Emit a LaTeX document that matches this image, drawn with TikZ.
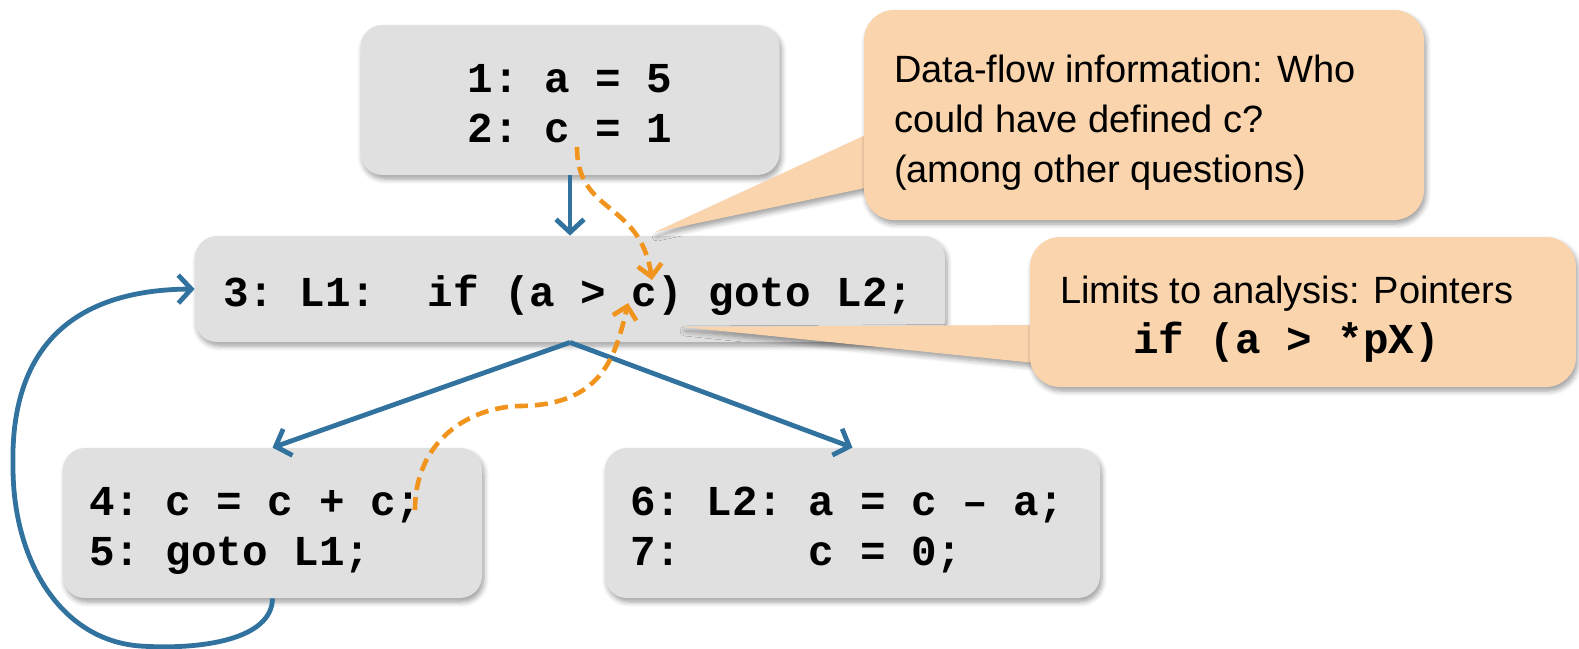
\documentclass[tikz,border=0pt]{standalone}
\usepackage{fontspec}
\setmonofont{Liberation Mono}
\newfontfamily\notefamily{Liberation Sans}
\usetikzlibrary{arrows.meta,shadows.blur}

\definecolor{boxgray}{RGB}{224,224,224}
\definecolor{notepeach}{RGB}{249,212,173}
\definecolor{flowblue}{RGB}{49,115,158}
\definecolor{dataorange}{RGB}{240,148,30}

\newcommand\codetype{\ttfamily\bfseries\fontsize{21.3}{25}\selectfont}
\newcommand\notetype{\notefamily\fontsize{19}{25}\selectfont}
\newsavebox\limitsline

\tikzset{
  softshadow/.style={blur shadow={shadow xshift=1pt, shadow yshift=-2pt,
      shadow blur radius=2.5pt, shadow blur steps=6, shadow opacity=38}},
  % keep the font's own word space (fixed-pitch code needs full-width blanks)
  fontspaces/.style={execute at begin node={\spaceskip=0pt\xspaceskip=0pt\relax}},
  codebox/.style={rounded corners=11pt, fill=boxgray, softshadow,
      inner ysep=0pt, font=\codetype, align=left, fontspaces},
  notebox/.style={rounded corners=15pt, fill=notepeach, softshadow,
      inner ysep=0pt, font=\notetype, align=left, fontspaces},
  wedge/.style={fill=notepeach, softshadow},
  flow/.style={draw=flowblue, line width=2.4pt,
      -{Straight Barb[length=6.5pt, width=14pt, line width=2.4pt]}},
  dataflow/.style={draw=dataorange, line width=2.3pt, dash pattern=on 6.5pt off 3.5pt,
      -{Straight Barb[length=6pt, width=12pt, line width=2.3pt]}},
}

\begin{document}
\begin{tikzpicture}[x=0.5pt, y=-0.5pt]
  \useasboundingbox (0,0) rectangle (1579,648);

  % basic blocks of the control-flow graph
  \node[codebox, align=center, minimum width=209.5pt, minimum height=75pt,
        inner xsep=10pt, text width=189.5pt, text height=0pt, text depth=8pt]
        (b1) at (570,100) {1: a = 5\\2: c = 1};
  \node[codebox, minimum width=375pt, minimum height=53pt,
        inner xsep=14pt, text width=347pt, text height=17pt, text depth=0pt]
        (b3) at (570,289) {3: L1:~~if (a > c) goto L2;};
  \node[codebox, minimum width=209.5pt, minimum height=75pt,
        inner xsep=13pt, text width=183.5pt, text height=0pt, text depth=8pt]
        (b4) at (272.5,523) {4: c = c + c;\\5: goto L1;};
  \node[codebox, minimum width=247.5pt, minimum height=75pt,
        inner xsep=12.5pt, text width=222.5pt, text height=0pt, text depth=8pt]
        (b6) at (852.5,523) {6: L2: a = c – a;\\7:~~~~~c = 0;};

  % speech-bubble pointers
  \coordinate (t1) at (655,232);
  \coordinate (t2) at (683,327);
  \fill[wedge] (t1) -- (870,133) -- (870,187) -- cycle;
  \fill[wedge] (t2) -- (1035,325) -- (1035,363) -- cycle;

  % annotations
  \node[notebox, minimum width=280pt, minimum height=105pt,
        inner xsep=15pt, text width=250pt, text height=0pt, text depth=33pt]
        (n1) at (1144,115)
        {Data-flow information: Who\\could have defined c?\\(among other questions)};
  \node[notebox, minimum width=273pt, minimum height=75pt,
        inner xsep=15pt, text width=243pt, text height=0pt, text depth=9pt]
        (n2) at (1303,312)
        {\sbox\limitsline{Limits to analysis: Pointers}%
         \vtop{\copy\limitsline
               \hbox to\wd\limitsline{\hss{\codetype if (a > *pX)}\hss}}};

  % control-flow edges
  \draw[flow] (b1.south) -- (b3.north);
  \draw[flow] (b3.south) -- (b4.north);
  \draw[flow] (b3.south) -- (b6.north);
  \draw[flow] (b4.south) .. controls (272,640) and (200,650) .. (140,646)
                         .. controls (60,640) and (13,560) .. (13,467)
                         .. controls (10,350) and (70,290) .. (b3.west);

  % reaching definitions of c
  \coordinate (d2) at (577,147);
  \coordinate (u3a) at (652,280);
  \coordinate (d4) at (415,510);
  \coordinate (u3b) at (628,303);
  \draw[dataflow] (d2) .. controls (577,215) and (640,200) .. (u3a);
  \draw[dataflow] (d4) .. controls (415,440) and (470,407) .. (520,406)
                       .. controls (600,405) and (615,360) .. (u3b);
\end{tikzpicture}
\end{document}
